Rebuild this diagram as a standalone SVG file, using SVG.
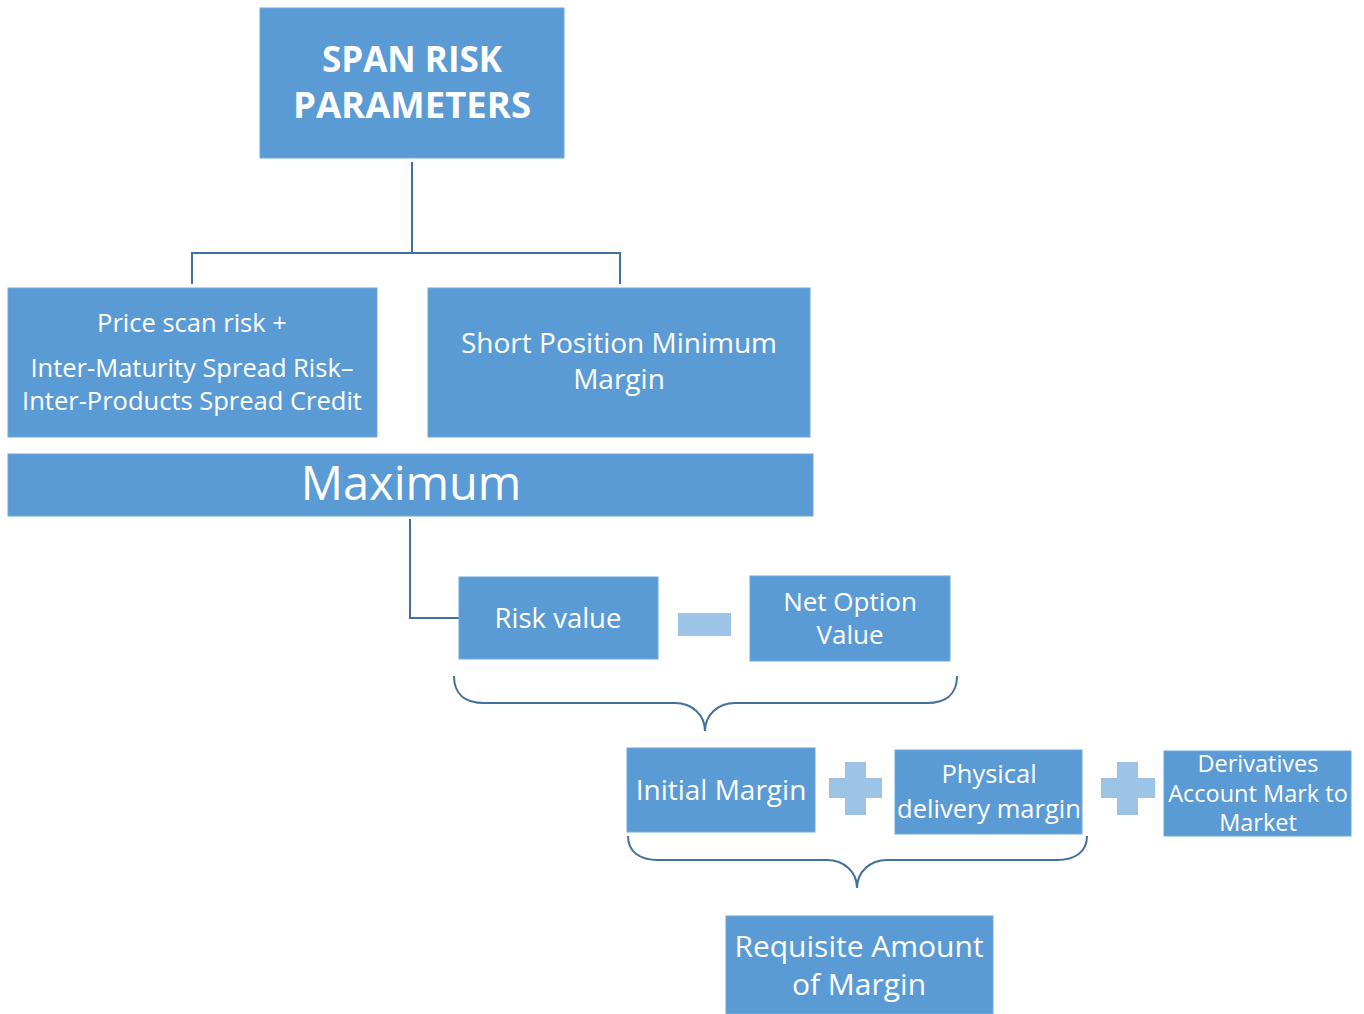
<svg xmlns="http://www.w3.org/2000/svg" width="1364" height="1014" viewBox="0 0 1364 1014">
<style>
.box{fill:#5B9BD5;stroke:#6FA8DC;stroke-width:1}
.op{fill:#9DC3E6}
.t{font-family:"Open Sans","Noto Sans","Liberation Sans",sans-serif;fill:#fff;text-anchor:middle}
.c{fill:none;stroke:#41719C;stroke-width:2}
</style>
<rect width="1364" height="1014" fill="#fff"/>
<g id="connectors">
<path class="c" d="M412,162 V253 M192,284 V253 H620 V284"/>
<path class="c" d="M410,519 V618 H459"/>
<path class="c" d="M454,676 C454,695 466,703 484,703 L675,703 C692,703 705,715 705,731 C705,715 718,703 735,703 L927,703 C945,703 957,695 957,676"/>
<path class="c" d="M628,836 C628,852 640,860 658,860 L827,860 C844,860 857,872 857,888 C857,872 870,860 887,860 L1057,860 C1075,860 1087,852 1087,836"/>
</g>
<g id="span">
<rect class="box" x="260" y="8" width="304" height="150"/>
<text class="t" x="412" y="72" font-size="35" font-weight="bold">SPAN RISK</text>
<text class="t" x="412" y="118" font-size="36.5" font-weight="bold">PARAMETERS</text>
</g>
<g id="price-scan">
<rect class="box" x="8" y="288" width="369" height="149"/>
<text class="t" x="192" y="332" font-size="25.5">Price scan risk +</text>
<text class="t" x="192" y="377" font-size="25.5">Inter-Maturity Spread Risk–</text>
<text class="t" x="192" y="410" font-size="25.5">Inter-Products Spread Credit</text>
</g>
<g id="short-position">
<rect class="box" x="428" y="288" width="382" height="149"/>
<text class="t" x="619" y="353" font-size="28">Short Position Minimum</text>
<text class="t" x="619" y="389" font-size="28">Margin</text>
</g>
<g id="maximum">
<rect class="box" x="8" y="454" width="805" height="62"/>
<text class="t" x="411" y="500" font-size="47">Maximum</text>
</g>
<g id="risk-value">
<rect class="box" x="459" y="577" width="199" height="82"/>
<text class="t" x="558" y="628" font-size="27.5">Risk value</text>
</g>
<g id="minus">
<rect class="op" x="678" y="613" width="53" height="23"/>
</g>
<g id="net-option">
<rect class="box" x="750" y="576" width="200" height="85"/>
<text class="t" x="850" y="611" font-size="26">Net Option</text>
<text class="t" x="850" y="644" font-size="26">Value</text>
</g>
<g id="initial-margin">
<rect class="box" x="627" y="748" width="188" height="84"/>
<text class="t" x="721" y="800" font-size="28">Initial Margin</text>
</g>
<g id="plus1">
<path class="op" d="M845,762 H866 V778 H882 V798 H866 V815 H845 V798 H829 V778 H845 Z"/>
</g>
<g id="physical">
<rect class="box" x="895" y="750" width="187" height="84"/>
<text class="t" x="989" y="783" font-size="25.5">Physical</text>
<text class="t" x="989" y="818" font-size="25.5">delivery margin</text>
</g>
<g id="plus2">
<path class="op" d="M1117,762 H1138 V778 H1155 V798 H1138 V815 H1117 V798 H1101 V778 H1117 Z"/>
</g>
<g id="derivatives">
<rect class="box" x="1164" y="751" width="187" height="85"/>
<text class="t" x="1258" y="772" font-size="23.5">Derivatives</text>
<text class="t" x="1258" y="802" font-size="23.5">Account Mark to</text>
<text class="t" x="1258" y="831" font-size="23.5">Market</text>
</g>
<g id="requisite">
<rect class="box" x="726" y="916" width="267" height="98"/>
<text class="t" x="859" y="957" font-size="30">Requisite Amount</text>
<text class="t" x="859" y="995" font-size="30">of Margin</text>
</g>
</svg>
